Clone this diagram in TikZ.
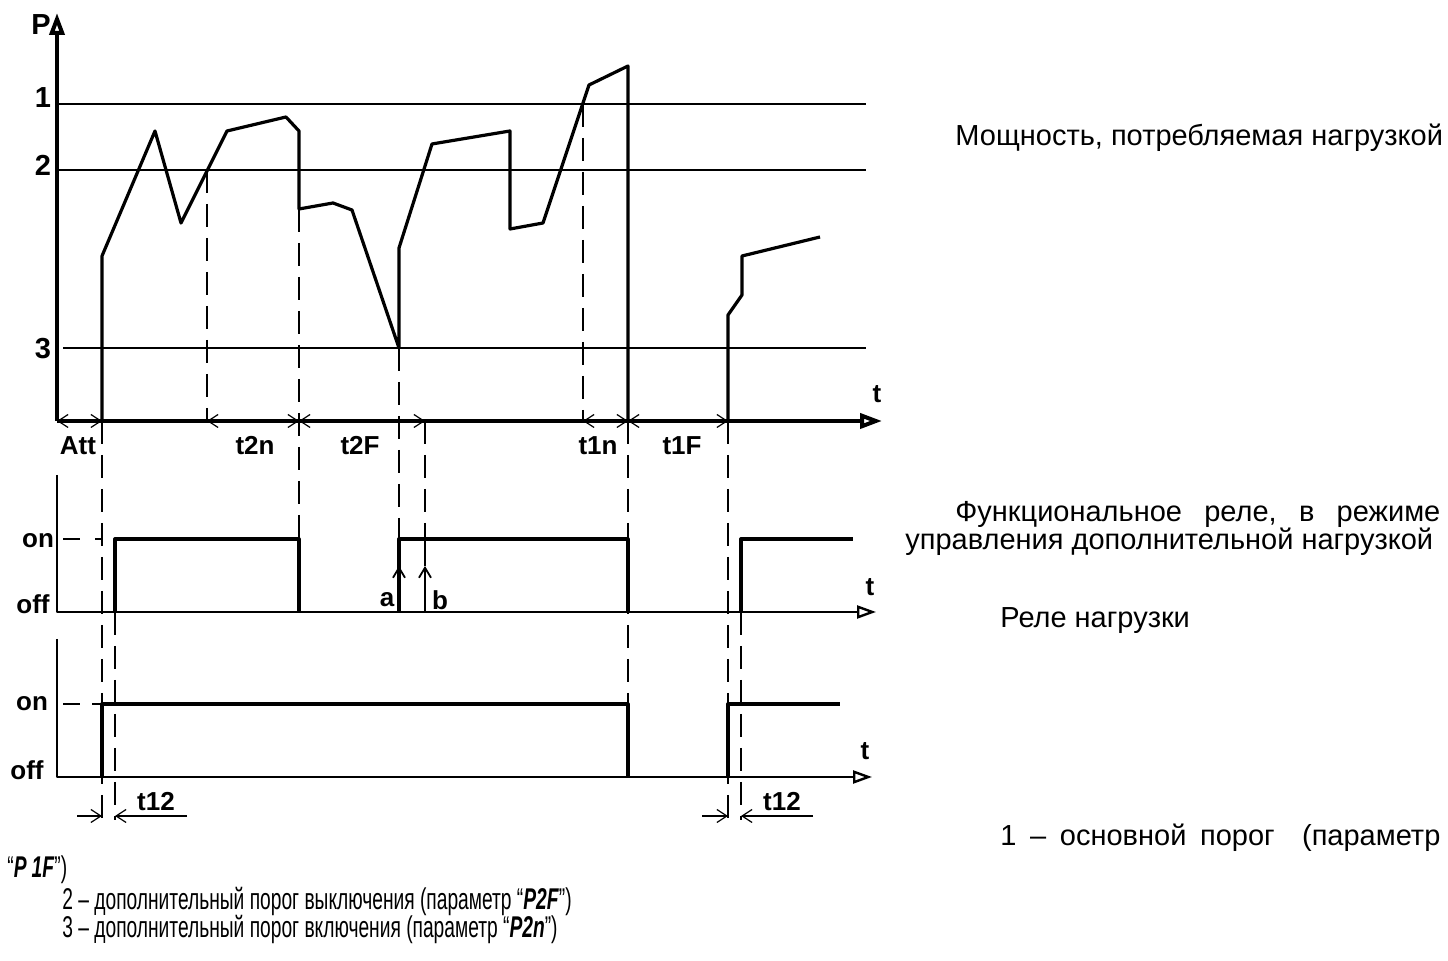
\documentclass[tikz,border=0pt]{standalone}
\usepackage{fontspec}
\setmainfont{Liberation Sans}
\newfontfamily\narrowfont[FakeStretch=0.64]{Liberation Sans}
\usetikzlibrary{arrows.meta}

\begin{document}
\begin{tikzpicture}[x=0.5pt,y=-0.5pt,line join=round]

	\tikzstyle{lbl}=[font=\fontsize{13}{15}\selectfont\bfseries,inner sep=0pt]
	\tikzstyle{num}=[font=\fontsize{14.5}{16}\selectfont\bfseries,inner sep=0pt]
	\tikzstyle{txt}=[font=\fontsize{14.5}{17}\selectfont,inner sep=0pt,anchor=base west]
	\tikzstyle{ntxt}=[font=\fontsize{15}{17}\selectfont\narrowfont,inner sep=0pt,anchor=base west]
	\tikzstyle{axis}=[line width=2pt,-{Triangle[open,length=11pt,width=7.5pt]}]
	\tikzstyle{raxis}=[line width=1.2pt,-{Triangle[open,length=9.5pt,width=6.5pt]}]
	\tikzstyle{level}=[line width=0.7pt]
	\tikzstyle{curve}=[line width=1.6pt]
	\tikzstyle{sig}=[line width=1.6pt]
	\tikzstyle{guide}=[line width=0.9pt,dash pattern=on 11.5pt off 5.5pt]
	\tikzstyle{dim}=[line width=0.6pt,{Straight Barb[length=5pt,width=6.5pt]}-{Straight Barb[length=5pt,width=6.5pt]}]
	\tikzstyle{dimin}=[line width=0.6pt,-{Straight Barb[length=5pt,width=6.5pt]}]
	\tikzstyle{ptr}=[line width=0.9pt,-{Straight Barb[length=5pt,width=6pt]}]

	\useasboundingbox (0,0) rectangle (1448,961);

	\draw[level] (57,104) -- (866,104);
	\draw[level] (57,170) -- (866,170);
	\draw[level] (63,348) -- (866,348);

	\draw[guide] (207,170) -- (207,421);
	\draw[guide] (299,209) -- (299,539);
	\draw[guide] (399,348) -- (399,539);
	\draw[guide] (425,421) -- (425,539);
	\draw[guide] (583,104) -- (583,421);
	\draw[guide] (628,421) -- (628,704);
	\draw[guide] (728,421) -- (728,820);
	\draw[guide] (741,612) -- (741,820);
	\draw[guide] (102,421) -- (102,820);
	\draw[guide] (115,612) -- (115,820);

	\draw[curve] (102,421) -- (102,256) -- (155,131) -- (181,223) -- (227,131) -- (286,117)
		-- (299,131) -- (299,209) -- (333,203) -- (352,210) -- (399,348) -- (399,248) -- (432,144)
		-- (510,131) -- (510,229) -- (543,223) -- (589,85) -- (628,66) -- (628,421);
	\draw[curve] (728,421) -- (728,315) -- (742,295) -- (742,256) -- (820,237);

	\draw[axis] (57,421) -- (57,13);
	\draw[axis] (57,421) -- (882,421);

	\draw[dim] (57,421) -- (102,421);
	\draw[dim] (207,421) -- (299,421);
	\draw[dim] (299,421) -- (425,421);
	\draw[dim] (583,421) -- (628,421);
	\draw[dim] (628,421) -- (728,421);

	\draw[raxis] (57,475) -- (57,612) -- (876,612);
	\draw[level] (63,539) -- (80,539) (95,539) -- (101,539);
	\draw[sig] (115,612) -- (115,539) -- (299,539) -- (299,612);
	\draw[sig] (399,612) -- (399,539) -- (628,539) -- (628,612);
	\draw[sig] (741,612) -- (741,539) -- (853,539);
	\draw[ptr] (399,612) -- (399,566);
	\draw[ptr] (425,612) -- (425,566);
	\draw[line width=0.9pt] (425,566) -- (425,539);

	\draw[raxis] (57,639) -- (57,777) -- (872,777);
	\draw[level] (63,704) -- (80,704) (92,704) -- (101,704);
	\draw[sig] (102,777) -- (102,704) -- (628,704) -- (628,777);
	\draw[sig] (728,777) -- (728,704) -- (840,704);

	\draw[dimin] (77,816) -- (102,816);
	\draw[dimin] (187,816) -- (115,816);
	\draw[dimin] (702,816) -- (728,816);
	\draw[dimin] (813,816) -- (741,816);

	\node[num] (lP) at (41,25) {P};
	\node[num] (l1) at (43,98) {1};
	\node[num] (l2) at (43,165) {2};
	\node[num] (l3) at (43,349) {3};
	\node[lbl] (tP) at (877,394) {t};
	\node[lbl] (tA) at (870,587) {t};
	\node[lbl] (tB) at (865,751) {t};
	\node[lbl] (dAtt) at (78,446) {Att};
	\node[lbl] (d2n) at (255,446) {t2n};
	\node[lbl] (d2F) at (360,446) {t2F};
	\node[lbl] (d1n) at (598,446) {t1n};
	\node[lbl] (d1F) at (682,446) {t1F};
	\node[lbl] (onA) at (38,541) {on};
	\node[lbl] (offA) at (33,604) {off};
	\node[lbl] (onB) at (32,704) {on};
	\node[lbl] (offB) at (27,770) {off};
	\node[lbl] (la) at (387,600) {a};
	\node[lbl] (lb) at (440,600) {b};
	\node[lbl] (t12L) at (156,802) {t12};
	\node[lbl] (t12R) at (782,802) {t12};

	\node[txt] (capP) at (955,146) {Мощность, потребляемая нагрузкой};
	\node[txt] (capA) at (955,522) {\makebox[242.5pt][s]{Функциональное\hfill реле,\hfill в\hfill режиме}};
	\node[txt] (capA2) at (905,550) {управления дополнительной нагрузкой};
	\node[txt] (capB) at (1000,628) {Реле нагрузки};
	\node[txt] (n1) at (1000,846) {\makebox[220pt][s]{1\hfill –\hfill основной\hfill порог\hfill\hfill (параметр}};
	\node[ntxt] (n1b) at (7,878) {“\textbf{\textit{P\,1F}}”)};
	\node[ntxt] (n2) at (62,910) {2 – дополнительный порог выключения (параметр “\textbf{\textit{P2F}}”)};
	\node[ntxt] (n3) at (62,938) {3 – дополнительный порог включения (параметр “\textbf{\textit{P2n}}”)};

\end{tikzpicture}
\end{document}
